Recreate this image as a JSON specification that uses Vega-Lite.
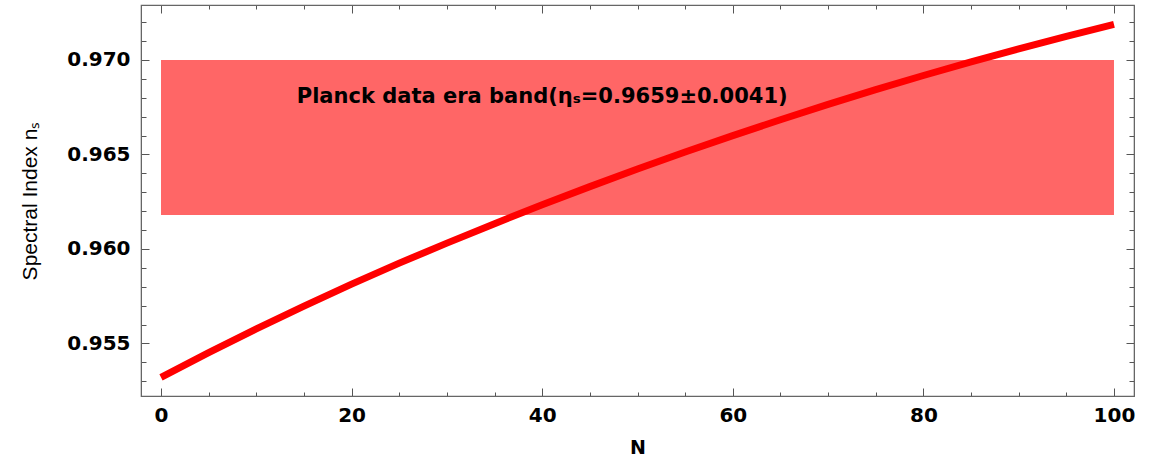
{
  "$schema": "https://vega.github.io/schema/vega-lite/v6.json",
  "width": 993,
  "height": 391,
  "autosize": {"type": "none"},
  "padding": {"left": 141, "top": 5, "right": 18, "bottom": 63},
  "background": "white",
  "config": {
    "view": {"stroke": "#666666", "strokeWidth": 1.2},
    "axis": {
      "domainColor": "#666666",
      "tickColor": "#555555",
      "grid": false,
      "labelFont": "DejaVu Sans",
      "labelFontWeight": "bold",
      "labelFontSize": 20,
      "labelColor": "#000000"
    }
  },
  "datasets": {
    "curve": [
      {"N": 0, "ns": 0.95320},
      {"N": 5, "ns": 0.95451},
      {"N": 10, "ns": 0.95577},
      {"N": 15, "ns": 0.95698},
      {"N": 20, "ns": 0.95814},
      {"N": 25, "ns": 0.95925},
      {"N": 30, "ns": 0.96031},
      {"N": 35, "ns": 0.96134},
      {"N": 40, "ns": 0.96234},
      {"N": 45, "ns": 0.96330},
      {"N": 50, "ns": 0.96423},
      {"N": 55, "ns": 0.96513},
      {"N": 60, "ns": 0.96600},
      {"N": 65, "ns": 0.96684},
      {"N": 70, "ns": 0.96765},
      {"N": 75, "ns": 0.96843},
      {"N": 80, "ns": 0.96918},
      {"N": 85, "ns": 0.96990},
      {"N": 90, "ns": 0.97059},
      {"N": 95, "ns": 0.97125},
      {"N": 100, "ns": 0.97188}
    ],
    "band": [
      {"N": 0, "N2": 100, "lo": 0.9618, "hi": 0.9700}
    ],
    "label": [
      {"N": 40, "ns": 0.96804, "text": "Planck data era band(ηₛ=0.9659±0.0041)"}
    ]
  },
  "layer": [
    {
      "data": {"name": "band"},
      "mark": {"type": "rect", "color": "#FF6666", "opacity": 1},
      "encoding": {
        "x": {
          "field": "N", "type": "quantitative",
          "scale": {"domain": [-2.1, 102.1], "nice": false, "zero": false},
          "axis": {
            "orient": "bottom",
            "title": "N",
            "titleFont": "DejaVu Sans",
            "titleFontWeight": "bold",
            "titleFontSize": 19,
            "titlePadding": 9,
            "values": [0,5,10,15,20,25,30,35,40,45,50,55,60,65,70,75,80,85,90,95,100],
            "labelExpr": "datum.value % 20 === 0 ? datum.label : ''",
            "tickSize": {"condition": {"test": "datum.value % 20 === 0", "value": -8}, "value": -4},
            "labelPadding": 17,
            "labelFlush": false,
            "labelOverlap": false
          }
        },
        "x2": {"field": "N2"},
        "y": {
          "field": "lo", "type": "quantitative",
          "scale": {"domain": [0.95222, 0.97291], "nice": false, "zero": false},
          "axis": {
            "orient": "left",
            "title": "Spectral Index nₛ",
            "titleFont": "Liberation Sans",
            "titleFontWeight": "normal",
            "titleFontSize": 21,
            "titleColor": "#000000",
            "titlePadding": 26,
            "values": [0.953,0.954,0.955,0.956,0.957,0.958,0.959,0.96,0.961,0.962,0.963,0.964,0.965,0.966,0.967,0.968,0.969,0.97,0.971,0.972],
            "format": ".3f",
            "labelExpr": "abs(datum.value*200 - round(datum.value*200)) < 0.000001 ? datum.label : ''",
            "tickSize": {"condition": {"test": "abs(datum.value*200 - round(datum.value*200)) < 0.000001", "value": -8}, "value": -5},
            "labelPadding": 19,
            "labelFlush": false,
            "labelOverlap": false
          }
        },
        "y2": {"field": "hi"}
      }
    },
    {
      "data": {"name": "curve"},
      "mark": {"type": "line", "color": "#FF0000", "strokeWidth": 7, "interpolate": "monotone"},
      "encoding": {
        "x": {
          "field": "N", "type": "quantitative",
          "axis": {
            "orient": "top",
            "title": null,
            "labels": false,
            "values": [0,5,10,15,20,25,30,35,40,45,50,55,60,65,70,75,80,85,90,95,100],
            "tickSize": {"condition": {"test": "datum.value % 20 === 0", "value": -8}, "value": -4}
          }
        },
        "y": {
          "field": "ns", "type": "quantitative",
          "axis": {
            "orient": "right",
            "title": null,
            "labels": false,
            "values": [0.953,0.954,0.955,0.956,0.957,0.958,0.959,0.96,0.961,0.962,0.963,0.964,0.965,0.966,0.967,0.968,0.969,0.97,0.971,0.972],
            "tickSize": {"condition": {"test": "abs(datum.value*200 - round(datum.value*200)) < 0.000001", "value": -8}, "value": -5}
          }
        }
      }
    },
    {
      "data": {"name": "label"},
      "mark": {"type": "text", "font": "DejaVu Sans", "fontWeight": "bold", "fontSize": 21, "color": "#000000", "align": "center", "baseline": "middle"},
      "encoding": {
        "x": {"field": "N", "type": "quantitative", "axis": null},
        "y": {"field": "ns", "type": "quantitative", "axis": null},
        "text": {"field": "text"}
      }
    }
  ],
  "resolve": {"axis": {"x": "independent", "y": "independent"}}
}
